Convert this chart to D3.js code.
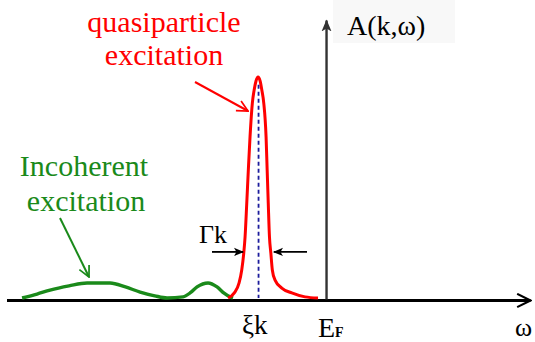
<!DOCTYPE html>
<html>
<head>
<meta charset="utf-8">
<script src="https://cdn.jsdelivr.net/npm/d3@7"></script>
<style>
  html, body { margin: 0; padding: 0; background: #fff; }
  .lbl { font-family: "Liberation Serif"; }
</style>
</head>
<body>
<svg id="chart" width="535" height="342"></svg>
<script>
// Spectral function A(k, ω): ω measured from the Fermi level E_F (ξk = -1).
const quasiOmega = [-1.441, -1.349, -1.279, -1.240, -1.210, -1.191, -1.166, -1.143, -1.118, -1.084, -1.058, -1.030, -1.000,
                    -0.970, -0.944, -0.916, -0.882, -0.866, -0.850, -0.832, -0.812, -0.790, -0.750, -0.651, -0.504, -0.309, -0.118];
const quasiA     = [0.000, 0.023, 0.068, 0.127, 0.204, 0.276, 0.430, 0.579, 0.729, 0.882, 0.940, 0.982, 1.000,
                    0.982, 0.940, 0.882, 0.729, 0.579, 0.430, 0.276, 0.204, 0.127, 0.081, 0.045, 0.023, 0.005, 0.000];

const incohOmega = [-4.471, -4.250, -4.059, -3.780, -3.515, -3.176, -2.950, -2.735, -2.520, -2.338, -2.103, -1.990, -1.897, -1.735, -1.603, -1.500, -1.412, -1.368];
const incohA     = [0.000, 0.018, 0.036, 0.055, 0.068, 0.068, 0.050, 0.027, 0.010, 0.000, 0.005, 0.025, 0.050, 0.068, 0.050, 0.022, 0.005, 0.000];

const xi = -1.0;          // quasiparticle energy ξk
const fermi = 0.0;        // Fermi level E_F
const halfWidthA = 0.204; // level at which the width Γk is marked

const svg = d3.select("#chart");
const x = d3.scaleLinear().domain([-4.7, 3.0]).range([6.5, 530]);
const y = d3.scaleLinear().domain([0, 1]).range([298, 77]);
const yTop = 1.258;

const red = "#ff0000", green = "#1a8a1a", navy = "#1c1c9c";

// faint panel behind the vertical-axis title
svg.append("rect").attr("x", 333).attr("y", 0).attr("width", 122).attr("height", 43).attr("fill", "#f8f8f8");

const defs = svg.append("defs");
function openHead(id, color, size) {
  defs.append("marker").attr("id", id).attr("viewBox", "0 0 12 12").attr("refX", 11).attr("refY", 6)
    .attr("markerWidth", size).attr("markerHeight", size).attr("markerUnits", "userSpaceOnUse").attr("orient", "auto")
    .append("path").attr("d", "M1,1 L11,6 L1,11").attr("fill", "none").attr("stroke", color).attr("stroke-width", 1.6);
}
function solidHead(id, color, size) {
  defs.append("marker").attr("id", id).attr("viewBox", "0 0 12 12").attr("refX", 11).attr("refY", 6)
    .attr("markerWidth", size).attr("markerHeight", size).attr("markerUnits", "userSpaceOnUse").attr("orient", "auto")
    .append("path").attr("d", "M0,1 L12,6 L0,11 L3,6 Z").attr("fill", color);
}
openHead("axisHead", "#000", 16);
solidHead("vHead", "#333", 12);
openHead("redHead", red, 13);
openHead("greenHead", green, 13);
solidHead("blackHead", "#000", 10);

// ω axis
const xAxis = svg.append("g").attr("transform", `translate(0,${y(0) + 2})`)
  .call(d3.axisBottom(x).tickValues([]).tickSizeOuter(0));
xAxis.select(".domain").attr("stroke", "#000").attr("stroke-width", 3.2).attr("marker-end", "url(#axisHead)");

// A(k,ω) axis at the Fermi level
const yAxis = svg.append("g").attr("transform", `translate(${x(fermi)},0)`)
  .call(d3.axisLeft(d3.scaleLinear().domain([0, yTop]).range([y(0) + 1, y(yTop)])).tickValues([]).tickSizeOuter(0));
yAxis.select(".domain").attr("stroke", "#333").attr("stroke-width", 2.4).attr("marker-end", "url(#vHead)");

const line = d3.line().x(d => x(d[0])).y(d => y(d[1])).curve(d3.curveMonotoneX);

// incoherent background
svg.append("path").datum(d3.zip(incohOmega, incohA)).attr("d", line)
  .attr("fill", "none").attr("stroke", green).attr("stroke-width", 3.4).attr("stroke-linejoin", "round");

// quasiparticle peak
svg.append("path").datum(d3.zip(quasiOmega, quasiA)).attr("d", line)
  .attr("fill", "none").attr("stroke", red).attr("stroke-width", 3).attr("stroke-linejoin", "round");

// ξk marker
svg.append("line").attr("x1", x(xi) + 0.5).attr("x2", x(xi) + 0.5).attr("y1", y(0.965)).attr("y2", y(0))
  .attr("stroke", navy).attr("stroke-width", 1.8).attr("stroke-dasharray", "4,3");

// Γk width arrows
const gy = y(halfWidthA) - 1;
svg.append("line").attr("x1", 212).attr("x2", x(-1.205) - 1).attr("y1", gy).attr("y2", gy)
  .attr("stroke", "#000").attr("stroke-width", 1.8).attr("marker-end", "url(#blackHead)");
svg.append("line").attr("x1", 307).attr("x2", x(-0.812) + 3).attr("y1", gy).attr("y2", gy)
  .attr("stroke", "#000").attr("stroke-width", 1.8).attr("marker-end", "url(#blackHead)");

// annotation arrows
svg.append("line").attr("x1", 195).attr("y1", 82).attr("x2", 248).attr("y2", 111)
  .attr("stroke", red).attr("stroke-width", 2).attr("marker-end", "url(#redHead)");
svg.append("line").attr("x1", 60).attr("y1", 218).attr("x2", 89).attr("y2", 277)
  .attr("stroke", green).attr("stroke-width", 2).attr("marker-end", "url(#greenHead)");

// labels
function label(xp, yp, size, color, anchor) {
  return svg.append("text").attr("class", "lbl").attr("x", xp).attr("y", yp)
    .attr("font-size", size).attr("fill", color).attr("text-anchor", anchor || "start");
}
label(164, 32, 30, red, "middle").text("quasiparticle");
label(164, 65, 30, red, "middle").text("excitation");
label(84, 176, 30, green, "middle").text("Incoherent");
label(86, 211, 30, green, "middle").text("excitation");

label(347, 35, 28, "#000").text("A(k,ω)");

const gam = label(199, 243, 26, "#000");
gam.append("tspan").text("Γ");
gam.append("tspan").text("k");

const xiLabel = label(242, 334, 27, "#000");
xiLabel.append("tspan").text("ξ");
xiLabel.append("tspan").text("k");

const ef = label(318, 337, 28, "#000");
ef.append("tspan").text("E");
ef.append("tspan").attr("font-size", 14).attr("font-weight", "bold").text("F");

label(515, 336, 26, "#000").text("ω");
</script>
</body>
</html>
